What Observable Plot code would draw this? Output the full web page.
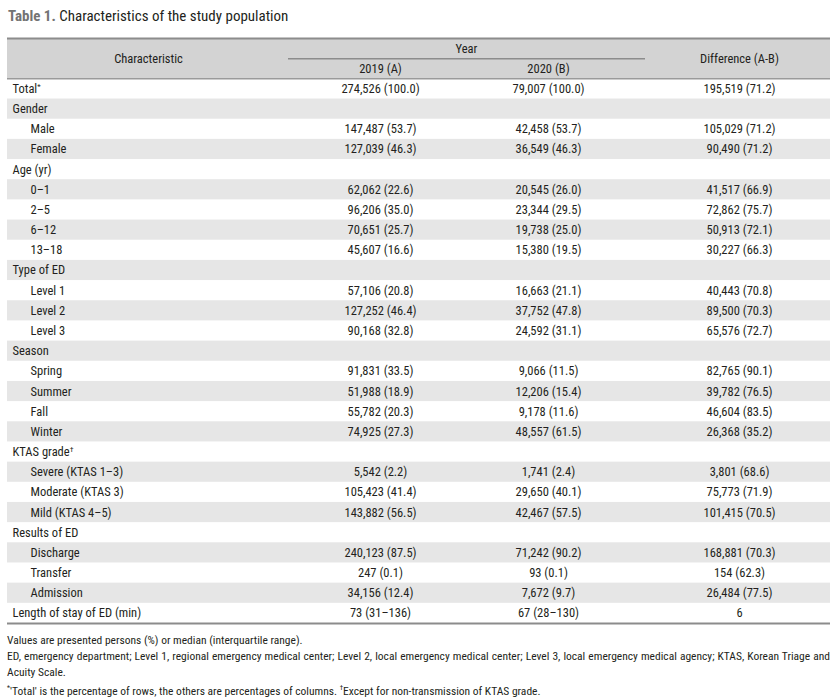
<!DOCTYPE html>
<html>
<head>
<meta charset="utf-8">
<script src="https://cdn.jsdelivr.net/npm/d3@7"></script>
<script src="https://cdn.jsdelivr.net/npm/@observablehq/plot@0.6"></script>
<style>
  html, body { margin: 0; padding: 0; background: #fff; }
  body { width: 836px; font-family: "Liberation Sans Narrow", "Roboto Condensed", "DejaVu Sans Condensed", "Liberation Sans", sans-serif; color: #231f20; }
  #title { height: 36px; box-sizing: border-box; padding: 7px 0 0 8px; font-size: 15px; }
  #title b { color: #737373; }
  #notes { margin: 6px 6px 0 7px; font-size: 11.5px; line-height: 16px; }
  #notes .just { text-align: justify; text-align-last: justify; }
</style>
</head>
<body>
<div id="title"><b>Table 1.</b> Characteristics of the study population</div>
<div id="chart"></div>
<div id="notes">
  <div>Values are presented persons (%) or median (interquartile range).</div>
  <div class="just">ED, emergency department; Level 1, regional emergency medical center; Level 2, local emergency medical center; Level 3, local emergency medical agency; KTAS, Korean Triage and</div>
  <div>Acuity Scale.</div>
  <div><sup style="font-size:7px">*</sup>'Total' is the percentage of rows, the others are percentages of columns. <sup style="font-size:7px">†</sup>Except for non-transmission of KTAS grade.</div>
</div>
<script>
const characteristics = ["Total","Gender","Male","Female","Age (yr)","0–1","2–5","6–12","13–18","Type of ED","Level 1","Level 2","Level 3","Season","Spring","Summer","Fall","Winter","KTAS grade","Severe (KTAS 1–3)","Moderate (KTAS 3)","Mild (KTAS 4–5)","Results of ED","Discharge","Transfer","Admission","Length of stay of ED (min)"];
const indentLevel = [0,0,1,1,0,1,1,1,1,0,1,1,1,0,1,1,1,1,0,1,1,1,0,1,1,1,0];
const labelNotes = ["*","","","","","","","","","","","","","","","","","","†","","","","","","","",""];
const year2019 = ["274,526 (100.0)","","147,487 (53.7)","127,039 (46.3)","","62,062 (22.6)","96,206 (35.0)","70,651 (25.7)","45,607 (16.6)","","57,106 (20.8)","127,252 (46.4)","90,168 (32.8)","","91,831 (33.5)","51,988 (18.9)","55,782 (20.3)","74,925 (27.3)","","5,542 (2.2)","105,423 (41.4)","143,882 (56.5)","","240,123 (87.5)","247 (0.1)","34,156 (12.4)","73 (31–136)"];
const year2020 = ["79,007 (100.0)","","42,458 (53.7)","36,549 (46.3)","","20,545 (26.0)","23,344 (29.5)","19,738 (25.0)","15,380 (19.5)","","16,663 (21.1)","37,752 (47.8)","24,592 (31.1)","","9,066 (11.5)","12,206 (15.4)","9,178 (11.6)","48,557 (61.5)","","1,741 (2.4)","29,650 (40.1)","42,467 (57.5)","","71,242 (90.2)","93 (0.1)","7,672 (9.7)","67 (28–130)"];
const difference = ["195,519 (71.2)","","105,029 (71.2)","90,490 (71.2)","","41,517 (66.9)","72,862 (75.7)","50,913 (72.1)","30,227 (66.3)","","40,443 (70.8)","89,500 (70.3)","65,576 (72.7)","","82,765 (90.1)","39,782 (76.5)","46,604 (83.5)","26,368 (35.2)","","3,801 (68.6)","75,773 (71.9)","101,415 (70.5)","","168,881 (70.3)","154 (62.3)","26,484 (77.5)","6"];
const headerTop = ["Characteristic","Year","Difference (A-B)"];
const headerSub = ["2019 (A)","2020 (B)"];

// layout (scale configuration)
const HEAD = 2;                 // header occupies 2 row units
const NROWS = characteristics.length;
const colX = {left: 7, right: 830, label: 12, indent: 30, a: 380, b: 548, d: 739, yearL: 288, yearR: 645, charC: 148, yearC: 466};

const rows = characteristics.map((label, i) => ({
  label, indent: indentLevel[i], note: labelNotes[i],
  a: year2019[i], b: year2020[i], d: difference[i],
  y: HEAD + i, shade: i % 2 === 1
}));

const FONT = 12.5;
const txt = "#231f20";

const plot = Plot.plot({
  width: 836,
  height: 590,
  margin: 0,
  x: {type: "linear", domain: [0, 836], range: [0, 836], axis: null},
  y: {type: "linear", domain: [0, HEAD + NROWS], range: [2, 587], axis: null},
  style: {fontFamily: '"Liberation Sans Narrow", "Roboto Condensed", "DejaVu Sans Condensed", "Liberation Sans", sans-serif', color: txt, background: "transparent"},
  marks: [
    // header background
    Plot.rect([0], {x1: colX.left, x2: colX.right, y1: 0, y2: HEAD, fill: "#d3d3d3"}),
    // alternating row shading
    Plot.rect(rows.filter(r => r.shade), {x1: colX.left, x2: colX.right, y1: "y", y2: r => r.y + 1, fill: "#e6e6e6"}),
    // rules
    Plot.ruleY([0], {x1: colX.left, x2: colX.right, stroke: "#8c8c8c", strokeWidth: 2}),
    Plot.ruleY([1], {x1: colX.yearL, x2: colX.yearR, stroke: "#8c8c8c", strokeWidth: 1.5}),
    Plot.ruleY([HEAD], {x1: colX.left, x2: colX.right, stroke: "#9a9a9a", strokeWidth: 1.5}),
    Plot.ruleY([HEAD + NROWS], {x1: colX.left, x2: colX.right, stroke: "#8c8c8c", strokeWidth: 2}),
    // header texts
    Plot.text([headerTop[0]], {x: colX.charC, y: HEAD / 2, text: d => d, fontSize: FONT, fill: txt}),
    Plot.text([headerTop[1]], {x: colX.yearC, y: 0.5, text: d => d, fontSize: FONT, fill: txt}),
    Plot.text([headerTop[2]], {x: colX.d, y: HEAD / 2, text: d => d, fontSize: FONT, fill: txt}),
    Plot.text(headerSub, {x: (d, i) => i === 0 ? colX.a : colX.b, y: 1.5, text: d => d, fontSize: FONT, fill: txt}),
    // row labels
    Plot.text(rows, {x: r => r.indent ? colX.indent : colX.label, y: r => r.y + 0.5, text: "label", textAnchor: "start", fontSize: FONT, fill: txt}),
    // values
    Plot.text(rows, {x: colX.a, y: r => r.y + 0.5, text: "a", fontSize: FONT, fill: txt}),
    Plot.text(rows, {x: colX.b, y: r => r.y + 0.5, text: "b", fontSize: FONT, fill: txt}),
    Plot.text(rows, {x: colX.d, y: r => r.y + 0.5, text: "d", fontSize: FONT, fill: txt})
  ]
});

// superscript footnote marks on labels
const noteMap = new Map(rows.filter(r => r.note).map(r => [r.label, r.note]));
d3.select(plot).selectAll("text").filter(function() { return noteMap.has(this.textContent); })
  .each(function() {
    const mark = noteMap.get(this.textContent);
    d3.select(this).append("tspan").attr("dy", "-0.45em").attr("font-size", 8).text(mark);
  });

document.getElementById("chart").appendChild(plot);
</script>
</body>
</html>
